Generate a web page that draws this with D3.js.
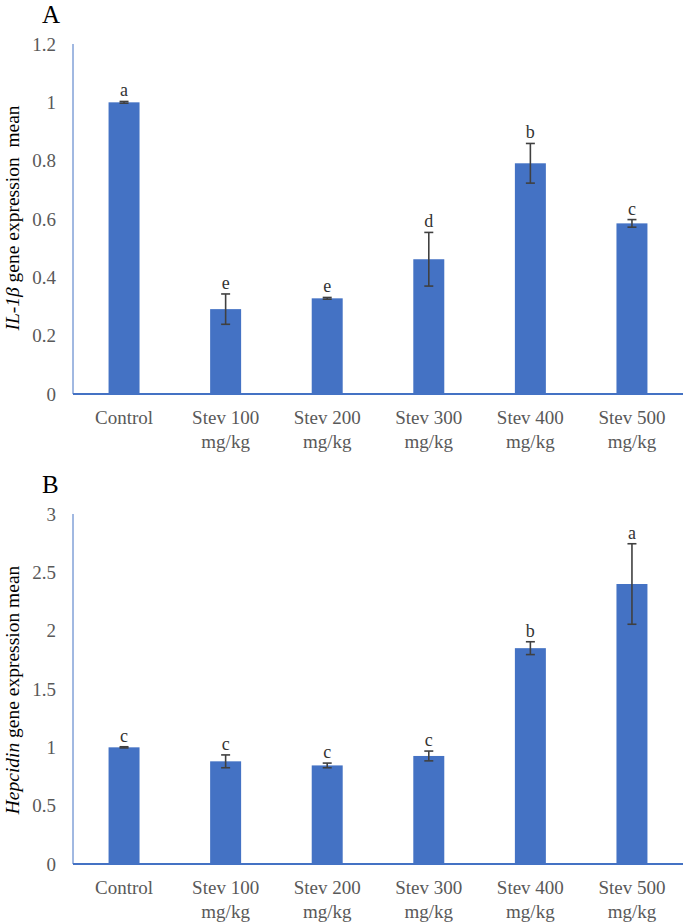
<!DOCTYPE html>
<html>
<head>
<meta charset="utf-8">
<script src="https://cdn.jsdelivr.net/npm/d3@7"></script>
<style>
  body { margin: 0; background: #fff; }
  text { font-family: "Liberation Serif", "Times New Roman", serif; }
</style>
</head>
<body>
<div id="chart"></div>
<script>
const groups = ["Control", "Stev 100 mg/kg", "Stev 200 mg/kg", "Stev 300 mg/kg", "Stev 400 mg/kg", "Stev 500 mg/kg"];

const il1bMeans = [1.0, 0.291, 0.328, 0.462, 0.791, 0.585];
const il1bErrors = [0.003, 0.052, 0.003, 0.092, 0.068, 0.013];
const il1bLetters = ["a", "e", "e", "d", "b", "c"];
const il1bTicks = [0, 0.2, 0.4, 0.6, 0.8, 1, 1.2];

const hepMeans = [1.0, 0.88, 0.845, 0.926, 1.85, 2.4];
const hepErrors = [0.005, 0.055, 0.02, 0.042, 0.055, 0.345];
const hepLetters = ["c", "c", "c", "c", "b", "a"];
const hepTicks = [0, 0.5, 1, 1.5, 2, 2.5, 3];

const W = 685, H = 923;
const blue = "#4472C4";

const svg = d3.select("#chart")
  .append("svg")
  .attr("width", W)
  .attr("height", H);

function panel(opts) {
  const g = svg.append("g");
  const left = 73, right = 683;

  const x = d3.scaleBand()
    .domain(groups)
    .range([left, right])
    .paddingInner(0.695)
    .paddingOuter(0.35);

  const y = d3.scaleLinear()
    .domain([0, opts.max])
    .range([opts.base, opts.top]);

  // panel letter
  g.append("text")
    .attr("x", 42)
    .attr("y", opts.base - 371)
    .attr("font-size", 25)
    .attr("fill", "#000")
    .text(opts.tag);

  // y tick labels
  g.selectAll(".ytick")
    .data(opts.ticks)
    .enter()
    .append("text")
    .attr("x", 56)
    .attr("y", (d) => y(d))
    .attr("dy", "0.35em")
    .attr("text-anchor", "end")
    .attr("font-size", 19)
    .attr("fill", "#595959")
    .text((d) => d);

  // bars
  g.selectAll(".bar")
    .data(opts.means)
    .enter()
    .append("rect")
    .attr("x", (d, i) => x(groups[i]))
    .attr("y", (d) => y(d))
    .attr("width", x.bandwidth())
    .attr("height", (d) => opts.base - y(d))
    .attr("fill", blue);

  // error bars
  const cx = (i) => x(groups[i]) + x.bandwidth() / 2;
  const err = g.selectAll(".err")
    .data(opts.means)
    .enter()
    .append("g")
    .attr("stroke", "#404040")
    .attr("stroke-width", 1.6);
  err.append("line")
    .attr("x1", (d, i) => cx(i)).attr("x2", (d, i) => cx(i))
    .attr("y1", (d, i) => y(d + opts.errors[i]))
    .attr("y2", (d, i) => y(d - opts.errors[i]));
  err.append("line")
    .attr("x1", (d, i) => cx(i) - 4.5).attr("x2", (d, i) => cx(i) + 4.5)
    .attr("y1", (d, i) => y(d + opts.errors[i]))
    .attr("y2", (d, i) => y(d + opts.errors[i]));
  err.append("line")
    .attr("x1", (d, i) => cx(i) - 4.5).attr("x2", (d, i) => cx(i) + 4.5)
    .attr("y1", (d, i) => y(d - opts.errors[i]))
    .attr("y2", (d, i) => y(d - opts.errors[i]));

  // significance letters
  g.selectAll(".sig")
    .data(opts.means)
    .enter()
    .append("text")
    .attr("x", (d, i) => cx(i))
    .attr("y", (d, i) => y(d + opts.errors[i]) - 5)
    .attr("text-anchor", "middle")
    .attr("font-size", 18)
    .attr("fill", "#333")
    .text((d, i) => opts.letters[i]);

  // axes lines
  g.append("line")
    .attr("x1", left).attr("x2", left)
    .attr("y1", opts.top).attr("y2", opts.base)
    .attr("stroke", blue).attr("stroke-width", 1);
  g.append("line")
    .attr("x1", left).attr("x2", right)
    .attr("y1", opts.base).attr("y2", opts.base)
    .attr("stroke", blue).attr("stroke-width", 1.8);

  // x labels, split on the dose
  const xl = g.selectAll(".xlab")
    .data(groups)
    .enter()
    .append("text")
    .attr("text-anchor", "middle")
    .attr("font-size", 19)
    .attr("fill", "#595959");
  xl.each(function (d) {
    const parts = d.startsWith("Stev") ? [d.replace(" mg/kg", ""), "mg/kg"] : [d];
    const t = d3.select(this);
    parts.forEach((p, k) => {
      t.append("tspan")
        .attr("x", x(d) + x.bandwidth() / 2)
        .attr("y", opts.base + 30 + k * 24)
        .text(p);
    });
  });

  // y axis title
  const yt = g.append("text")
    .attr("transform", `translate(19, ${opts.labelY}) rotate(-90)`)
    .attr("text-anchor", "middle")
    .attr("font-size", 19.5)
    .attr("fill", "#000")
    .style("white-space", "pre");
  yt.append("tspan").attr("font-style", "italic").text(opts.gene);
  yt.append("tspan").text(opts.rest);
}

panel({
  tag: "A", top: 44, base: 394, max: 1.2, ticks: il1bTicks,
  means: il1bMeans, errors: il1bErrors, letters: il1bLetters,
  gene: "IL-1β", rest: " gene expression  mean", labelY: 218,
});

panel({
  tag: "B", top: 514, base: 864, max: 3, ticks: hepTicks,
  means: hepMeans, errors: hepErrors, letters: hepLetters,
  gene: "Hepcidin", rest: " gene expression mean", labelY: 690,
});
</script>
</body>
</html>
